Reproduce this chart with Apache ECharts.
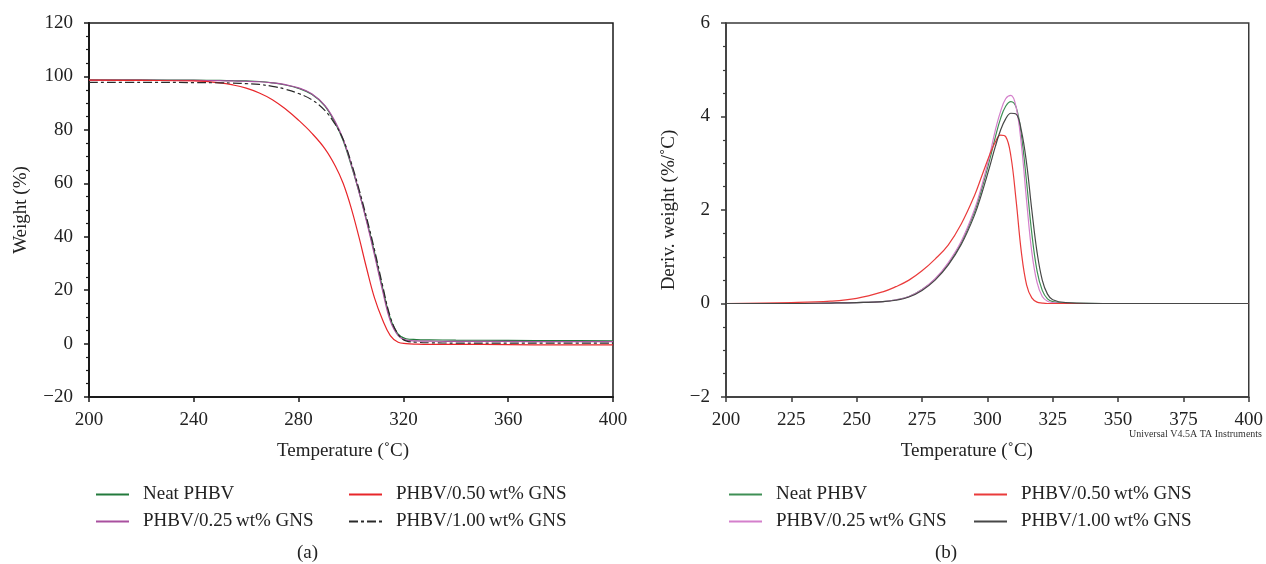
<!DOCTYPE html>
<html>
<head>
<meta charset="utf-8">
<script src="https://cdn.jsdelivr.net/npm/echarts@6/dist/echarts.min.js"></script>
<style>
    body { margin: 0; background: #fff; }
    #chartA { position: absolute; left: 0; top: 0; width: 633px; height: 564px; }
    #chartB { position: absolute; left: 633px; top: 0; width: 633px; height: 564px; }
</style>
</head>
<body>
<div id="chartA"></div>
<div id="chartB"></div>
<script>
// (a) TGA: weight (%) vs temperature
var aTgaTemp = [200, 220, 240, 250, 255, 260, 265, 270, 275, 280, 285, 290, 294, 297, 300, 303, 306, 309, 312, 315, 318, 321, 325, 330, 340, 360, 380, 400];
var aTgaNeat = [98.7, 98.7, 98.6, 98.5, 98.4, 98.3, 98.1, 97.6, 96.8, 95.5, 93.3, 89.0, 82.5, 76, 67, 57, 46, 34, 21, 9.5, 3.5, 1.8, 1.5, 1.4, 1.3, 1.2, 1.1, 1.0];
var aTga025 = [98.6, 98.6, 98.5, 98.4, 98.3, 98.2, 98.0, 97.6, 96.9, 95.7, 93.5, 89.2, 83, 76.5, 67.5, 57, 45.5, 33, 20, 8.5, 3, 1.3, 1.0, 0.9, 0.8, 0.8, 0.7, 0.7];
var aTga050 = [98.6, 98.5, 98.3, 97.6, 96.8, 95.6, 93.8, 91.3, 87.8, 83.6, 78.8, 73, 66.5, 60, 51, 40, 28, 17, 9, 3, 0.5, 0, -0.2, -0.3, -0.3, -0.4, -0.5, -0.5];
var aTga100 = [97.8, 97.8, 97.7, 97.6, 97.5, 97.3, 97.0, 96.3, 95.2, 93.6, 91.3, 87.3, 82, 76.5, 68, 58, 47, 35, 22, 10, 3.5, 1.0, 0.5, 0.3, 0.2, 0.2, 0.2, 0.2];

// (b) DTG: deriv. weight (%/˚C) vs temperature
var aDtgTemp = [200, 225, 240, 250, 260, 265, 270, 275, 280, 285, 290, 295, 298, 301, 303, 305, 307, 309, 311, 313, 315, 317, 319, 321, 323, 325, 330, 350, 375, 400];
var aDtgNeat = [0, 0, 0.01, 0.02, 0.04, 0.08, 0.15, 0.3, 0.52, 0.85, 1.3, 1.95, 2.48, 3.1, 3.55, 3.95, 4.22, 4.32, 4.2, 3.6, 2.6, 1.5, 0.7, 0.28, 0.1, 0.04, 0.01, 0, 0, 0];
var aDtg025 = [0, 0, 0.01, 0.02, 0.04, 0.08, 0.15, 0.3, 0.53, 0.87, 1.33, 2.0, 2.55, 3.2, 3.7, 4.1, 4.38, 4.45, 4.2, 3.4, 2.2, 1.1, 0.45, 0.15, 0.05, 0.02, 0, 0, 0, 0];
var aDtg050 = [0, 0.02, 0.05, 0.11, 0.25, 0.36, 0.5, 0.7, 0.95, 1.25, 1.7, 2.3, 2.75, 3.2, 3.45, 3.6, 3.57, 3.15, 2.2, 1.1, 0.4, 0.12, 0.03, 0.01, 0, 0, 0, 0, 0, 0];
var aDtg100 = [0, 0, 0.01, 0.02, 0.04, 0.07, 0.14, 0.28, 0.5, 0.82, 1.26, 1.88, 2.38, 2.95, 3.35, 3.7, 3.95, 4.07, 4.05, 3.7, 3.0, 2.0, 1.1, 0.5, 0.2, 0.08, 0.02, 0, 0, 0];

var aNames = ['Neat PHBV', 'PHBV/0.25\u2009wt% GNS', 'PHBV/0.50\u2009wt% GNS', 'PHBV/1.00\u2009wt% GNS'];
var aTgaXTicks = [200, 400, 40];
var aTgaYTicks = [-20, 120, 20];
var aDtgXTicks = [200, 400, 25];
var aDtgYTicks = [-2, 6, 2];

var sFont = '"Liberation Serif", "Times New Roman", serif';

function ToPairs(aX, aY) {
    var aOut = [];
    for (var i = 0; i < aX.length; i++) {
        aOut.push([aX[i], aY[i]]);
    }
    return aOut;
}

function MinusFmt(v) {
    return String(v).replace('-', '\u2212');
}

function MakeSeries(sName, aX, aY, sColor, oType) {
    return {
        name: sName,
        type: 'line',
        smooth: 0.4,
        symbol: 'none',
        lineStyle: {color: sColor, width: 1.2, type: oType || 'solid'},
        itemStyle: {color: sColor},
        data: ToPairs(aX, aY)
    };
}

function MakeLegend(aData, iLeft) {
    return {
        data: aData,
        orient: 'vertical',
        left: iLeft,
        top: 480,
        itemWidth: 33,
        itemHeight: 14,
        itemGap: 8,
        itemStyle: {opacity: 0},
        textStyle: {fontFamily: sFont, fontSize: 19, color: '#222', padding: [0, 0, 0, 9]}
    };
}

function GetOption(aSeries, aXT, aYT, sYName, iYGap, oCfg) {
    var jOption = {
        animation: false,
        grid: {
            left: oCfg.left, right: oCfg.right, top: 23, bottom: 167,
            show: true, borderColor: oCfg.border, borderWidth: 1.5
        },
        legend: [
            MakeLegend([aNames[0], aNames[1]], 90),
            MakeLegend([aNames[2], aNames[3]], oCfg.legend2)
        ],
        xAxis: {
            type: 'value',
            min: aXT[0], max: aXT[1], interval: aXT[2],
            name: 'Temperature (\u02DAC)',
            nameLocation: 'middle',
            nameGap: 45,
            nameTextStyle: {fontFamily: sFont, fontSize: 19, color: '#222', padding: oCfg.namePad},
            axisLine: {onZero: false, lineStyle: {color: oCfg.border, width: oCfg.axisW}},
            axisTick: {inside: false, length: 5, lineStyle: {color: oCfg.border, width: 1.5}},
            axisLabel: {fontFamily: sFont, fontSize: 19, color: '#222', margin: 14},
            splitLine: {show: false}
        },
        yAxis: {
            type: 'value',
            min: aYT[0], max: aYT[1], interval: aYT[2],
            name: sYName,
            nameLocation: 'middle',
            nameGap: iYGap,
            nameTextStyle: {fontFamily: sFont, fontSize: 19, color: '#222'},
            axisLine: {show: true, onZero: false, lineStyle: {color: oCfg.border, width: oCfg.axisW}},
            axisTick: {show: true, inside: false, length: 5, lineStyle: {color: oCfg.border, width: 1.5}},
            minorTick: {show: true, splitNumber: 4, length: 3, lineStyle: {color: oCfg.border, width: 1.2}},
            axisLabel: {fontFamily: sFont, fontSize: 19, color: '#222', margin: 16, formatter: MinusFmt},
            splitLine: {show: false}
        },
        graphic: oCfg.graphic,
        series: aSeries
    };
    return jOption;
}

function SetOption(jOption, sTagID) {
    var myChart = echarts.init(document.getElementById(sTagID));
    myChart.setOption(jOption);
    return myChart;
}

var aSeriesA = [
    MakeSeries(aNames[0], aTgaTemp, aTgaNeat, '#237a3c'),
    MakeSeries(aNames[1], aTgaTemp, aTga025, '#a9509f'),
    MakeSeries(aNames[2], aTgaTemp, aTga050, '#e8262a'),
    MakeSeries(aNames[3], aTgaTemp, aTga100, '#2a2a2a', [9, 3, 3, 3])
];
var aSeriesB = [
    MakeSeries(aNames[0], aDtgTemp, aDtgNeat, '#3f8f55'),
    MakeSeries(aNames[1], aDtgTemp, aDtg025, '#d47fcb'),
    MakeSeries(aNames[2], aDtgTemp, aDtg050, '#ea3b3b'),
    MakeSeries(aNames[3], aDtgTemp, aDtg100, '#474747')
];

SetOption(GetOption(aSeriesA, aTgaXTicks, aTgaYTicks, 'Weight (%)', 58, {
    left: 89, right: 20, border: '#1a1a1a', axisW: 2, legend2: 343, namePad: [0, 16, 0, 0],
    graphic: [{type: 'text', left: 297, top: 544,
        style: {text: '(a)', fontFamily: sFont, fontSize: 19, fill: '#222'}}]
}), 'chartA');

SetOption(GetOption(aSeriesB, aDtgXTicks, aDtgYTicks, 'Deriv. weight (%/\u02DAC)', 46, {
    left: 93, right: 17, border: '#3a3a3a', axisW: 1.5, legend2: 335, namePad: [0, 41, 0, 0],
    graphic: [
        {type: 'text', right: 4, top: 429,
            style: {text: 'Universal V4.5A TA Instruments', fontFamily: sFont, fontSize: 10, fill: '#333'}},
        {type: 'text', left: 302, top: 544,
            style: {text: '(b)', fontFamily: sFont, fontSize: 19, fill: '#222'}}
    ]
}), 'chartB');
</script>
</body>
</html>
